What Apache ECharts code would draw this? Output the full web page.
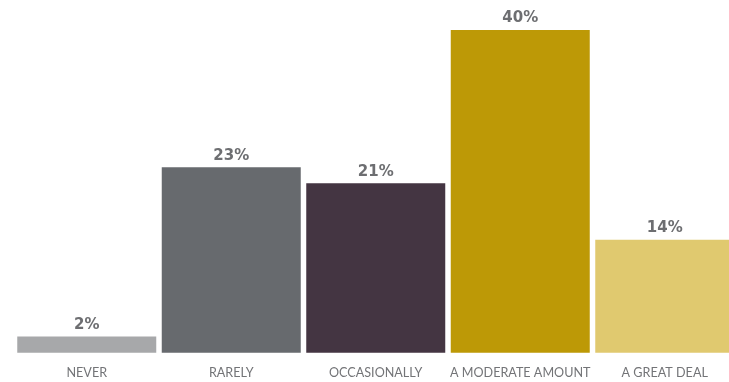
<!DOCTYPE html>
<html>
<head>
<meta charset="utf-8">
<style>
  html, body { margin: 0; padding: 0; background: #ffffff; overflow: hidden; }
  /* the last bar runs slightly past the right edge of the page */
  #chart { width: 737px; height: 382px; }
</style>
<script src="https://cdn.jsdelivr.net/npm/echarts@6/dist/echarts.min.js"></script>
</head>
<body>
<div id="chart"></div>
<script>
// Survey response categories and their share of respondents (%)
const categories = ['NEVER', 'RARELY', 'OCCASIONALLY', 'A MODERATE AMOUNT', 'A GREAT DEAL'];
const shares = [2, 23, 21, 40, 14];
const barColors = ['#a7a8aa', '#676a6e', '#443542', '#bd9906', '#e0c96f'];

const chart = echarts.init(document.getElementById('chart'), null, { renderer: 'canvas' });

chart.setOption({
  animation: false,
  grid: { left: 14.5, top: 30, right: 0, bottom: 29.3, containLabel: false },
  xAxis: {
    type: 'category',
    data: categories,
    axisLine: { show: false },
    axisTick: { show: false },
    axisLabel: {
      interval: 0,
      margin: 14,
      color: '#737477',
      fontFamily: 'Lato, "Open Sans", sans-serif',
      fontSize: 12.6
    }
  },
  yAxis: {
    type: 'value',
    min: 0,
    max: 40,
    show: false,
    splitLine: { show: false }
  },
  series: [{
    type: 'bar',
    barWidth: 139,
    data: shares.map((v, i) => ({ value: v, itemStyle: { color: barColors[i] } })),
    label: {
      show: true,
      position: 'top',
      distance: 4,
      formatter: '{c}%',
      color: '#6d6e71',
      fontFamily: '"DejaVu Sans", sans-serif',
      fontWeight: 'bold',
      fontSize: 15
    }
  }]
});
</script>
</body>
</html>
